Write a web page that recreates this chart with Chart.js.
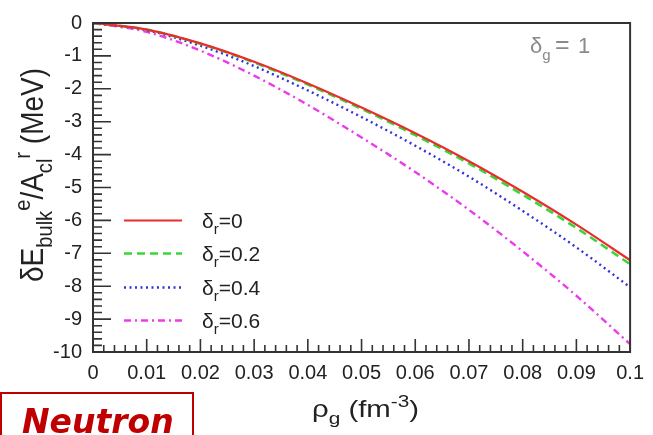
<!DOCTYPE html>
<html>
<head>
<meta charset="utf-8">
<script src="https://cdn.jsdelivr.net/npm/chart.js@4.4.1/dist/chart.umd.min.js"></script>
<style>body{margin:0;background:#fff}</style>
</head>
<body>
<canvas id="chart" width="653" height="435"></canvas>
<script>
// rho_g (fm^-3)
var rhoG = [0, 0.01, 0.02, 0.03, 0.04, 0.05, 0.06, 0.07, 0.08, 0.09, 0.1];

// dE_bulk / A_cl (MeV) for each delta_r
var dr0  = [0, -0.2, -0.62, -1.18, -1.84, -2.57, -3.35, -4.2, -5.13, -6.13, -7.21];
var dr02 = [0, -0.2, -0.63, -1.2, -1.87, -2.61, -3.41, -4.27, -5.22, -6.23, -7.33];
var dr04 = [0, -0.22, -0.69, -1.31, -2.05, -2.86, -3.73, -4.67, -5.71, -6.82, -8.03];
var dr06 = [0, -0.27, -0.84, -1.6, -2.49, -3.48, -4.53, -5.68, -6.94, -8.29, -9.76];

var seriesNames = ['0', '0.2', '0.4', '0.6'];
var xTickValues = [0, 0.01, 0.02, 0.03, 0.04, 0.05, 0.06, 0.07, 0.08, 0.09, 0.1];
var xTickLabels = ['0', '0.01', '0.02', '0.03', '0.04', '0.05', '0.06', '0.07', '0.08', '0.09', '0.1'];
var yTickValues = [-10, -9, -8, -7, -6, -5, -4, -3, -2, -1, 0];
var yTickLabels = ['-10', '-9', '-8', '-7', '-6', '-5', '-4', '-3', '-2', '-1', '0'];

var colors = ['rgb(232,45,45)', 'rgb(55,215,55)', 'rgb(50,50,215)', 'rgb(235,60,235)'];
var dashes = [[], [8, 5], [2, 3.5], [7, 4, 2, 4]];
var widths = [2.2, 2.6, 2.4, 2.4];

var FONT = '"Liberation Sans", Arial, sans-serif';

function toPoints(ys) {
    return rhoG.map(function (x, i) { return { x: x, y: ys[i] }; });
}

// draw text made of pieces: [text, 'n' | 'sub' | 'sup']
function rich(ctx, segs, x, y, size, small, measureOnly) {
    var cx = x;
    segs.forEach(function (s) {
        var kind = s[1] || 'n';
        var fs = kind === 'n' ? size : small;
        ctx.font = fs + 'px ' + FONT;
        var dy = kind === 'sub' ? size * 0.3 : (kind === 'sup' ? -size * 0.42 : 0);
        if (!measureOnly) ctx.fillText(s[0], cx, y + dy);
        cx += ctx.measureText(s[0]).width;
    });
    return cx - x;
}

var allData = [dr0, dr02, dr04, dr06];

var datasets = allData.map(function (d, i) {
    return {
        label: 'dr=' + seriesNames[i],
        data: toPoints(d),
        borderColor: colors[i],
        borderWidth: widths[i],
        borderDash: dashes[i],
        pointRadius: 0,
        fill: false,
        cubicInterpolationMode: 'monotone'
    };
});

// axes frame, inward ticks, titles, legend and labels
var decor = {
    id: 'decor',
    afterDatasetsDraw: function (chart) {
        var ctx = chart.ctx, a = chart.chartArea;
        var xs = chart.scales.x, ys = chart.scales.y;
        ctx.save();
        ctx.strokeStyle = '#333';
        ctx.lineWidth = 2;
        ctx.strokeRect(a.left, a.top, a.right - a.left, a.bottom - a.top);
        ctx.lineWidth = 1.6;
        ctx.beginPath();
        var i, len, p;
        for (i = 0; i <= 50; i++) {
            p = ys.getPixelForValue(-10 + i * 0.2);
            len = i % 5 === 0 ? 18 : 9;
            ctx.moveTo(a.left, p); ctx.lineTo(a.left + len, p);
        }
        for (i = 0; i <= 50; i++) {
            p = xs.getPixelForValue(i * 0.002);
            len = i % 5 === 0 ? 13 : 7;
            ctx.moveTo(p, a.bottom); ctx.lineTo(p, a.bottom - len);
        }
        ctx.stroke();
        ctx.restore();
    },
    afterDraw: function (chart) {
        var ctx = chart.ctx;
        ctx.save();
        ctx.textBaseline = 'alphabetic';
        ctx.textAlign = 'left';

        // legend
        ctx.fillStyle = '#222';
        var rows = [220.5, 253.5, 287.5, 320.5];
        rows.forEach(function (ry, i) {
            ctx.strokeStyle = colors[i];
            ctx.lineWidth = widths[i];
            ctx.setLineDash(dashes[i]);
            ctx.beginPath();
            ctx.moveTo(124, ry); ctx.lineTo(182, ry);
            ctx.stroke();
            ctx.setLineDash([]);
            rich(ctx, [['δ'], ['r', 'sub'], ['=' + seriesNames[i]]], 202, ry + 7, 21, 15);
        });

        // delta_g = 1
        ctx.fillStyle = '#8a8a8a';
        rich(ctx, [['δ'], ['g', 'sub']], 530, 53, 22, 15);
        ctx.font = '25px ' + FONT;
        ctx.fillText('=', 555, 53);
        ctx.font = '22px ' + FONT;
        ctx.fillText('1', 578, 53);

        // x title
        ctx.fillStyle = '#222';
        var xsegs = [['ρ'], ['g', 'sub'], [' (fm'], ['-3', 'sup'], [')']];
        var w = rich(ctx, xsegs, 0, 0, 24, 17, true);
        ctx.save();
        ctx.translate(312, 417);
        ctx.scale(107 / w, 1);
        rich(ctx, xsegs, 0, 0, 24, 17);
        ctx.restore();

        // y title
        var ysegs = [['δE'], ['bulk', 'sub'], ['e', 'sup'], ['/A'], ['cl', 'sub'], ['r', 'sup'], [' (MeV)']];
        w = rich(ctx, ysegs, 0, 0, 25, 18, true);
        ctx.save();
        ctx.translate(43, 282);
        ctx.rotate(-Math.PI / 2);
        ctx.scale(214 / w, 1.22);
        rich(ctx, ysegs, 0, 0, 25, 18);
        ctx.restore();

        // Neutron box
        ctx.fillStyle = '#fff';
        ctx.fillRect(1, 393, 192, 50);
        ctx.strokeStyle = '#c00000';
        ctx.lineWidth = 2;
        ctx.strokeRect(1, 393, 192, 50);
        ctx.fillStyle = '#c00000';
        ctx.font = 'italic bold 33px "DejaVu Sans", sans-serif';
        ctx.fillText('Neutron', 22, 433);
        ctx.restore();
    }
};

var ctx = document.getElementById('chart');

var config = {
    type: 'line',
    data: { datasets: datasets },
    options: {
        responsive: false,
        animation: false,
        layout: { padding: { left: 0, top: 17, right: 16, bottom: 0 } },
        plugins: { legend: { display: false }, tooltip: { enabled: false } },
        scales: {
            x: {
                type: 'linear',
                min: 0,
                max: 0.1,
                border: { display: false },
                grid: { display: false, drawTicks: false },
                afterBuildTicks: function (s) { s.ticks = xTickValues.map(function (v) { return { value: v }; }); },
                afterFit: function (s) { s.height = 83; },
                ticks: {
                    autoSkip: false,
                    maxRotation: 0,
                    padding: 9,
                    color: '#222',
                    font: { family: FONT, size: 20 },
                    callback: function (v, i) { return xTickLabels[i]; }
                }
            },
            y: {
                min: -10,
                max: 0,
                border: { display: false },
                grid: { display: false, drawTicks: false },
                afterBuildTicks: function (s) { s.ticks = yTickValues.map(function (v) { return { value: v }; }); },
                afterFit: function (s) { s.width = 93; },
                ticks: {
                    autoSkip: false,
                    padding: 11,
                    color: '#222',
                    font: { family: FONT, size: 20 },
                    callback: function (v, i) { return yTickLabels[i]; }
                }
            }
        }
    },
    plugins: [decor]
};

var chart = new Chart(ctx, config);
</script>
</body>
</html>
